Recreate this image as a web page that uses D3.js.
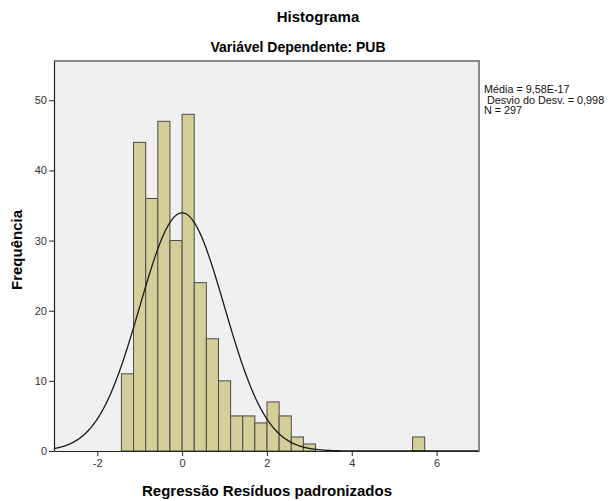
<!DOCTYPE html>
<html>
<head>
<meta charset="utf-8">
<script src="https://cdn.jsdelivr.net/npm/d3@7"></script>
<style>
	body { margin: 0; background: #fff; }
	svg { font-family: "Liberation Sans", Arial, sans-serif; }
</style>
</head>
<body>
<svg id="chart" width="612" height="501"></svg>
<script>
// histogram bins (lower edge of each bin) and frequencies
var binStarts = [-1.43, -1.144, -0.858, -0.572, -0.286, 0, 0.286, 0.572, 0.858, 1.144, 1.43, 1.716, 2.002, 2.288, 2.574, 2.86, 5.434];
var counts = [11, 44, 36, 47, 30, 48, 24, 16, 10, 5, 5, 4, 7, 5, 2, 1, 2];
var binWidth = 0.286;

// normal curve parameters
var mean = 9.58e-17;
var stdDev = 0.998;
var n = 297;

var xTicks = [-2, 0, 2, 4, 6];
var yTicks = [0, 10, 20, 30, 40, 50];
var statLines = ["Média = 9,58E-17", " Desvio do Desv. = 0,998", "N = 297"];

var svg = d3.select("#chart");

var plotLeft = 54, plotRight = 479, plotTop = 61, plotBottom = 451;

var x = d3.scaleLinear().domain([-3.02, 7.0]).range([plotLeft, plotRight]);
var y = d3.scaleLinear().domain([0, 55.6]).range([plotBottom, plotTop]);

// plot background
svg.append("rect")
	.attr("x", plotLeft).attr("y", plotTop)
	.attr("width", plotRight - plotLeft).attr("height", plotBottom - plotTop)
	.attr("fill", "#f0f0f0");

// bars
svg.append("g").selectAll("rect")
	.data(counts)
	.enter().append("rect")
	.attr("x", function(d, i) { return x(binStarts[i]); })
	.attr("y", function(d) { return y(d); })
	.attr("width", function(d, i) { return x(binStarts[i] + binWidth) - x(binStarts[i]); })
	.attr("height", function(d) { return plotBottom - y(d); })
	.attr("fill", "#d4cf99")
	.attr("stroke", "#4a4a4a")
	.attr("stroke-width", 1);

// normal curve scaled to the counts
var scale = n * binWidth / (stdDev * Math.sqrt(2 * Math.PI));
var curve = d3.range(-3.02, 7.0, 0.02).map(function(v) {
	var z = (v - mean) / stdDev;
	return [v, scale * Math.exp(-0.5 * z * z)];
});
svg.append("path")
	.datum(curve)
	.attr("fill", "none")
	.attr("stroke", "#1a1a1a")
	.attr("stroke-width", 1.3)
	.attr("d", d3.line().x(function(d) { return x(d[0]); }).y(function(d) { return y(d[1]); }));

// frame: top and right in grey
svg.append("path")
	.attr("d", "M" + plotLeft + "," + plotTop + "H" + plotRight + "V" + plotBottom)
	.attr("fill", "none")
	.attr("stroke", "#8a8a8a")
	.attr("stroke-width", 2);

// axes (hyphen minus like the original)
var fmt = function(d) { return String(d); };
var xAxis = svg.append("g")
	.attr("transform", "translate(0," + plotBottom + ")")
	.call(d3.axisBottom(x).tickValues(xTicks).tickSize(5).tickSizeOuter(0).tickPadding(3).tickFormat(fmt));
var yAxis = svg.append("g")
	.attr("transform", "translate(" + plotLeft + ",0)")
	.call(d3.axisLeft(y).tickValues(yTicks).tickSize(5).tickSizeOuter(0).tickPadding(2).tickFormat(fmt));

[xAxis, yAxis].forEach(function(a) {
	a.select(".domain").attr("stroke", "#222").attr("stroke-width", 1.2);
	a.selectAll(".tick line").attr("stroke", "#222");
	a.selectAll(".tick text").attr("fill", "#333").style("font-size", "11px")
		.style("font-family", "'Liberation Sans', Arial, sans-serif");
});

// titles
svg.append("text")
	.attr("x", 318).attr("y", 22)
	.attr("text-anchor", "middle")
	.style("font-size", "15px").style("font-weight", "bold")
	.text("Histograma");
svg.append("text")
	.attr("x", 298).attr("y", 52)
	.attr("text-anchor", "middle")
	.style("font-size", "14px").style("font-weight", "bold")
	.text("Variável Dependente: PUB");

svg.append("text")
	.attr("x", 267).attr("y", 496)
	.attr("text-anchor", "middle")
	.style("font-size", "15px").style("font-weight", "bold")
	.text("Regressão Resíduos padronizados");

svg.append("text")
	.attr("transform", "translate(22,250) rotate(-90)")
	.attr("text-anchor", "middle")
	.style("font-size", "15px").style("font-weight", "bold")
	.text("Frequência");

// summary statistics
svg.append("g").selectAll("text")
	.data(statLines)
	.enter().append("text")
	.attr("x", 484)
	.attr("y", function(d, i) { return 93 + i * 10.5; })
	.attr("xml:space", "preserve")
	.style("white-space", "pre")
	.style("font-size", "10.8px")
	.attr("fill", "#111")
	.text(function(d) { return d; });
</script>
</body>
</html>
